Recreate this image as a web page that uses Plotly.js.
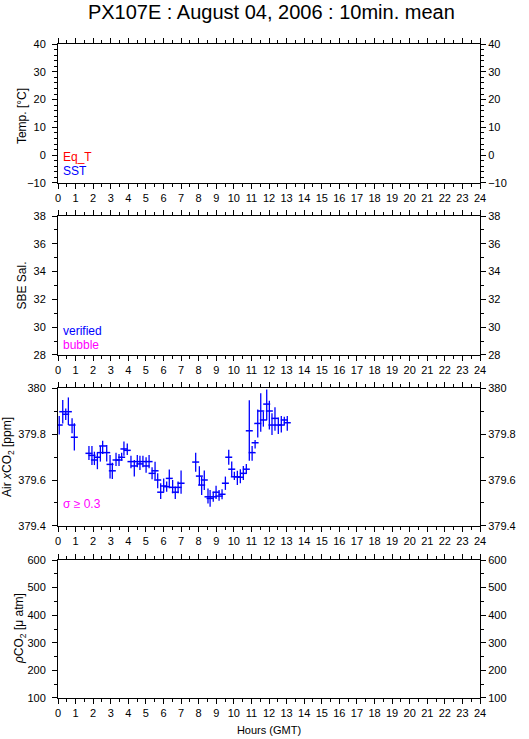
<!DOCTYPE html>
<html>
<head>
<meta charset="utf-8">
<script src="https://cdn.plot.ly/plotly-3.0.1.min.js"></script>
<style>html,body{margin:0;padding:0;background:#fff;}#chart{width:529px;height:739px;}</style>
</head>
<body>
<div id="chart"></div>
<script>
// Air xCO2 10-min means (hours GMT)
const hours = [0.07,0.27,0.44,0.59,0.80,0.93,
  1.76,1.93,2.07,2.24,2.41,2.54,2.77,2.96,3.09,3.30,
  3.47,3.62,3.75,3.94,4.15,4.34,4.51,4.66,4.83,5.01,
  5.18,5.35,5.52,5.67,5.84,6.01,6.18,6.33,6.52,6.67,
  6.83,7.00,
  7.83,8.04,8.17,8.32,8.53,8.65,8.83,8.99,9.16,9.33,
  9.52,9.71,9.88,10.03,10.20,10.37,10.54,10.71,10.88,11.04,
  11.21,11.36,11.53,11.68,11.87,12.02,12.17,12.34,12.53,12.70,
  12.87,13.04];
const xco2 = [379.839,379.897,379.886,379.897,379.839,379.786,
  379.716,379.707,379.687,379.699,379.719,379.748,379.719,379.668,379.640,379.687,
  379.687,379.699,379.735,379.729,379.680,379.661,379.680,379.670,379.680,379.661,
  379.680,379.629,379.640,379.600,379.547,379.574,379.571,379.607,379.568,379.547,
  379.568,379.586,
  379.678,379.617,379.578,379.600,379.527,379.520,379.527,379.547,379.530,379.538,
  379.586,379.699,379.647,379.614,379.614,379.612,379.629,379.647,379.814,379.719,
  379.762,379.846,379.900,379.861,379.930,379.900,379.839,379.868,379.839,379.839,
  379.861,379.849];
const errPlus = [0.039,0.051,0.025,0.062,0.029,0.061,
  0.032,0.041,0.036,0.020,0.029,0.023,0.033,0.041,0.035,0.032,
  0.026,0.020,0.032,0.030,0.025,0.026,0.029,0.035,0.025,0.038,
  0.029,0.026,0.039,0.029,0.039,0.033,0.022,0.039,0.032,0.022,
  0.025,0.055,
  0.041,0.043,0.036,0.041,0.036,0.036,0.022,0.028,0.026,0.022,
  0.029,0.032,0.033,0.022,0.026,0.035,0.032,0.023,0.133,0.029,
  0.012,0.061,0.077,0.036,0.064,0.045,0.051,0.048,0.033,0.039,
  0.014,0.029];
const errMinus = [0.041,0.051,0.025,0.058,0.036,0.058,
  0.029,0.042,0.022,0.052,0.039,0.035,0.039,0.061,0.036,0.026,
  0.026,0.015,0.030,0.020,0.029,0.046,0.025,0.026,0.025,0.029,
  0.029,0.026,0.038,0.036,0.030,0.025,0.022,0.043,0.026,0.030,
  0.026,0.046,
  0.042,0.039,0.043,0.043,0.029,0.036,0.022,0.030,0.020,0.022,
  0.029,0.033,0.032,0.014,0.036,0.026,0.029,0.020,0.130,0.035,
  0.025,0.061,0.090,0.029,0.070,0.080,0.043,0.054,0.039,0.033,
  0.022,0.035];

const hourTicks = ['0','1','2','3','4','5','6','7','8','9','10','11','12','13','14','15','16','17','18','19','20','21','22','23','24'];

const FONT = 'Liberation Sans, Arial, sans-serif';
const BLUE = '#0000ff', RED = '#ff0000', MAG = '#ff00ff';

const traces = [
  {x: [], y: [], xaxis: 'x', yaxis: 'y', type: 'scatter', mode: 'markers'},
  {x: [], y: [], xaxis: 'x', yaxis: 'y5', type: 'scatter', mode: 'markers'},
  {x: [], y: [], xaxis: 'x2', yaxis: 'y2', type: 'scatter', mode: 'markers'},
  {x: [], y: [], xaxis: 'x2', yaxis: 'y6', type: 'scatter', mode: 'markers'},
  {x: hours, y: xco2, xaxis: 'x3', yaxis: 'y3', type: 'scatter', mode: 'markers',
   marker: {symbol: 'line-ew', size: 5, color: BLUE, line: {color: BLUE, width: 1.5}},
   error_y: {type: 'data', symmetric: false, array: errPlus, arrayminus: errMinus,
             color: BLUE, thickness: 1.3, width: 0}},
  {x: [], y: [], xaxis: 'x3', yaxis: 'y7', type: 'scatter', mode: 'markers'},
  {x: [], y: [], xaxis: 'x4', yaxis: 'y4', type: 'scatter', mode: 'markers'},
  {x: [], y: [], xaxis: 'x4', yaxis: 'y8', type: 'scatter', mode: 'markers'}
];

function xax(anchor, title) {
  const a = {
    anchor: anchor, domain: [0, 1], range: [0, 24], tickmode: 'array',
    tickvals: hourTicks.map(Number), ticktext: hourTicks,
    ticks: 'outside', ticklen: 5, tickwidth: 1, tickcolor: '#000',
    minor: {dtick: 0.5, tick0: 0, ticks: 'outside', ticklen: 3, tickcolor: '#000', showgrid: false},
    showline: true, linecolor: '#000', linewidth: 1, mirror: 'ticks',
    showgrid: false, zeroline: false, fixedrange: true,
    tickfont: {family: FONT, size: 11, color: '#000'}
  };
  if (title) a.title = {text: title, font: {family: FONT, size: 11, color: '#000'}, standoff: 8};
  return a;
}
function yax(anchor, domain, range, dtick, minor) {
  return {
    anchor: anchor, domain: domain, range: range, dtick: dtick, tick0: range[0],
    ticks: 'outside', ticklen: 5, tickwidth: 1, tickcolor: '#000',
    minor: {dtick: minor, ticks: 'outside', ticklen: 3, tickcolor: '#000', showgrid: false},
    showline: true, linecolor: '#000', linewidth: 1,
    showgrid: false, zeroline: false, fixedrange: true, ticklabelstandoff: 4,
    tickfont: {family: FONT, size: 11, color: '#000'}
  };
}
function yr(over, anchor, range, dtick, minor) {
  return {
    overlaying: over, side: 'right', anchor: anchor, range: range, dtick: dtick, tick0: range[0],
    ticks: 'outside', ticklen: 5, tickwidth: 1, tickcolor: '#000',
    minor: {dtick: minor, ticks: 'outside', ticklen: 3, tickcolor: '#000', showgrid: false},
    showline: true, linecolor: '#000', linewidth: 1,
    showgrid: false, zeroline: false, fixedrange: true,
    tickfont: {family: FONT, size: 11, color: '#000'}
  };
}

const d1 = [0.7875, 1.0], d2 = [0.5245, 0.737], d3 = [0.263, 0.474], d4 = [0, 0.211];
const mid = d => (d[0] + d[1]) / 2;
const px = p => (p - 58) / 422;

function ytitle(text, x, y) {
  return {text: text, xref: 'paper', yref: 'paper', x: px(x), y: y, textangle: -90,
          xanchor: 'center', yanchor: 'middle', showarrow: false,
          font: {family: FONT, size: 12, color: '#000'}};
}
function label(text, xr, yr, y, color) {
  return {text: text, xref: xr, yref: yr, x: 0.008, y: y, xanchor: 'left', yanchor: 'middle',
          showarrow: false, font: {family: FONT, size: 12, color: color}};
}

const layout = {
  width: 529, height: 739,
  margin: {l: 58, r: 49, t: 44, b: 41, pad: 0},
  paper_bgcolor: '#fff', plot_bgcolor: '#fff',
  showlegend: false,
  font: {family: FONT, size: 11, color: '#000'},
  title: {text: 'PX107E : August 04, 2006 : 10min. mean', font: {family: FONT, size: 20, color: '#000'},
          x: 0.513, xanchor: 'center', xref: 'container', y: 0.984, yanchor: 'middle', yref: 'container'},
  xaxis: xax('y'), xaxis2: xax('y2'), xaxis3: xax('y3'), xaxis4: xax('y4', 'Hours (GMT)'),
  yaxis: yax('x', d1, [-10, 40], 10, 2),
  yaxis2: yax('x2', d2, [28, 38], 2, 1),
  yaxis3: yax('x3', d3, [379.4, 380], 0.2, 0.1),
  yaxis4: yax('x4', d4, [100, 600], 100, 50),
  yaxis5: yr('y', 'x', [-10, 40], 10, 2),
  yaxis6: yr('y2', 'x2', [28, 38], 2, 1),
  yaxis7: yr('y3', 'x3', [379.4, 380], 0.2, 0.1),
  yaxis8: yr('y4', 'x4', [100, 600], 100, 50),
  annotations: [
    ytitle('Temp. [°C]', 22, mid(d1) - 0.004),
    ytitle('SBE Sal.', 22, mid(d2)),
    ytitle('Air <i>x</i>CO<sub>2</sub> [ppm]', 8, mid(d3)),
    ytitle('<i>ρ</i>CO<sub>2</sub> [μ atm]', 20, mid(d4)),
    label('Eq_T', 'x domain', 'y domain', 0.19, RED),
    label('SST', 'x domain', 'y domain', 0.085, BLUE),
    label('verified', 'x2 domain', 'y2 domain', 0.175, BLUE),
    label('bubble', 'x2 domain', 'y2 domain', 0.075, MAG),
    label('σ ≥ 0.3', 'x3 domain', 'y3 domain', 0.16, MAG)
  ]
};

Plotly.newPlot('chart', traces, layout, {staticPlot: true, displayModeBar: false});
</script>
</body>
</html>
